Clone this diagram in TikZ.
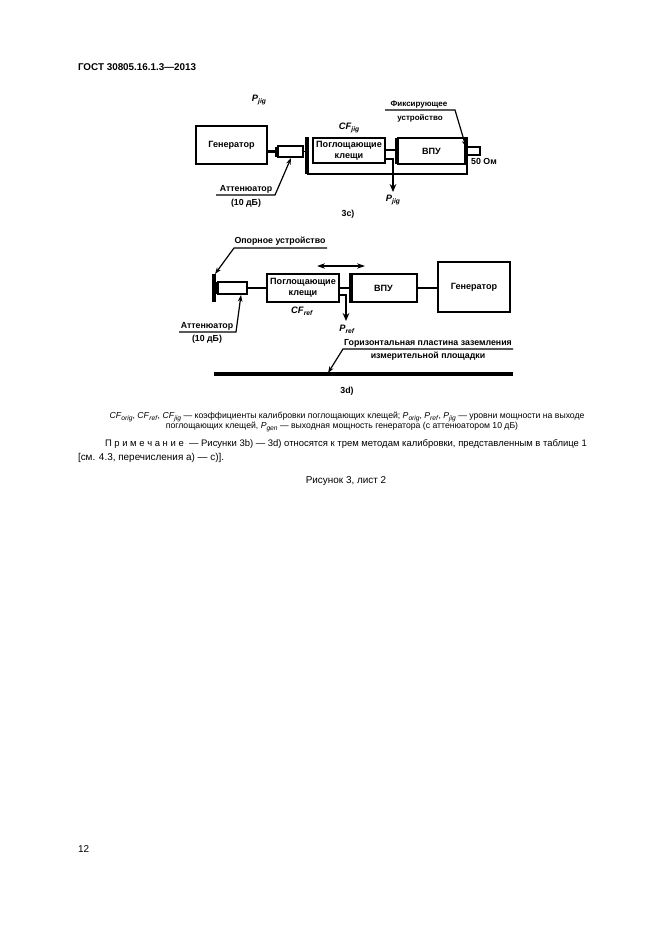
\documentclass[tikz,border=0pt]{standalone}
\usepackage{fontspec}
\setmainfont{Liberation Sans}
\usetikzlibrary{arrows.meta}
\newcommand\Lsub[2]{\textit{#1}\raisebox{-0.45ex}{\fontsize{5}{5}\selectfont\textit{#2}}}
\newcommand\bx[7][box]{\node[#1,minimum width={(#5-#3)*0.75pt},minimum height={(#6-#4)*0.75pt}] (#2) at ({(#3+#5)/2},{(#4+#6)/2}) {#7};}
\tikzset{
 x=0.75pt,y=-0.75pt,
 box/.style={draw,line width=1.7pt,inner sep=0pt,outer sep=0pt,align=center,font=\fontsize{6.8}{9}\selectfont\bfseries},
 midbox/.style={box,line width=1.25pt},
 thinbox/.style={box,line width=1.2pt},
 plate/.style={line width=2.4pt},
 wire/.style={line width=1.2pt},
 wireb/.style={line width=2pt},
 lead/.style={line width=0.9pt,-{Stealth[length=5pt,width=3.5pt]}},
 outarrow/.style={line width=1.2pt,-{Stealth[length=6pt,width=5pt]}},
 lab/.style={inner sep=0pt,outer sep=0pt,font=\fontsize{6.6}{8}\selectfont\bfseries},
 labp/.style={lab,font=\fontsize{7}{8}\selectfont\bfseries},
 labs/.style={lab,font=\fontsize{6}{8}\selectfont\bfseries},
 labg/.style={lab,font=\fontsize{6.6}{8}\selectfont\bfseries},
 txt/.style={inner sep=0pt,outer sep=0pt,font=\fontsize{7.1}{9}\selectfont},
 txtb/.style={txt,font=\fontsize{7.45}{9}\selectfont},
 leg/.style={inner sep=0pt,outer sep=0pt,font=\fontsize{6.5}{8}\selectfont},
}
\begin{document}
\begin{tikzpicture}
\useasboundingbox (0,0) rectangle (661,935);
\fill[white] (0,0) rectangle (661,935);
% header / footer
\node[txt,anchor=west,font=\fontsize{7.4}{9}\selectfont\bfseries] (hdr) at (78,67) {ГОСТ 30805.16.1.3—2013};
\node[txtb,anchor=west] (pg) at (78,849) {12};
% 3c
\bx{gen1}{196}{126}{267}{164}{Генератор}
\bx[thinbox]{att1}{278}{146}{303}{157}{}
\bx{clamp1}{313}{138}{385}{163}{Поглощающие\\[-0.5pt]клещи}
\bx{vpu1}{398}{138}{465}{164}{ВПУ}
\bx[thinbox]{load1}{467}{147}{480}{155}{}
\coordinate (pl1t) at (307,137);
\coordinate (pl1b) at (307,174);
\coordinate (ret1) at (467,174);
\coordinate (ret1t) at (467,137);
\coordinate (p1end) at (393,192);
\draw[plate] (pl1t) -- (pl1b);
\draw[wireb] (pl1b) -- (ret1) -- (ret1t);
\draw[plate] (vpu1.north west) ++(-1,0) -- ++(0,26);
\draw[wireb] (gen1.east |- att1.west) -- (att1.west);
\draw[line width=3pt] (att1.west) ++(-1,-5) -- ++(0,10);
\draw[wire] (att1.east) -- (att1.east -| pl1t);
\draw[wire] (clamp1.east |- vpu1.west) ++(0,-1) -- ++(13,0);
\coordinate (o1) at (clamp1.east |- 0,159);
\draw[wire] (o1) -| (393,170);
\draw[outarrow] (393,165) -- (p1end);
\node[labp] (pj1) at (259,100) {\Lsub{P}{jig}};
\node[labp] (cfj) at (349,128) {\Lsub{CF}{jig}};
\node[labp] (pj2) at (393,200) {\Lsub{P}{jig}};
\node[lab] (s3c) at (348,214) {3с)};
\node[lab] (ohm) at (484,161) {50 Ом};
\node[labs] (fix1) at (419,105) {Фиксирующее};
\node[labs] (fix2) at (420,118) {устройство};
\coordinate (fixa) at (385,110);\coordinate (fixb) at (455,110);\coordinate (fixc) at (466,147);
\draw[lead] (fixa) -- (fixb) -- (fixc);
\node[lab] (at1) at (246,189) {Аттенюатор};
\node[lab] (db1) at (246,203) {(10 дБ)};
\coordinate (ata) at (216,195);\coordinate (atb) at (275,195);\coordinate (atc) at (291,158);
\draw[lead] (ata) -- (atb) -- (atc);
% 3d
\coordinate (pl2t) at (214,274);\coordinate (pl2b) at (214,302);
\draw[plate] (pl2t) -- (pl2b);
\node[lab] (ref) at (280,241) {Опорное устройство};
\coordinate (refa) at (327,248);\coordinate (refb) at (234,248);\coordinate (refc) at (215,274);
\draw[lead] (refa) -- (refb) -- (refc);
\bx[thinbox]{att2}{218}{282}{247}{294}{}
\draw[line width=3pt] (att2.west) ++(-1,-6) -- ++(0,12);
\bx[midbox]{clamp2}{267}{274}{339}{302}{Поглощающие\\[-0.5pt]клещи}
\bx[midbox]{vpu2}{350}{274}{417}{302}{ВПУ}
\draw[line width=3.5pt] (vpu2.north west) ++(1,0) -- ++(0,28);
\bx[midbox]{gen2}{438}{262}{510}{312}{Генератор}
\draw[wire] (att2.east) -- (clamp2.west);
\draw[wire] (clamp2.east) -- (vpu2.west);
\draw[wire] (vpu2.east) -- (vpu2.east -| gen2.west);
\coordinate (o2) at (clamp2.east |- 0,295);
\coordinate (p2end) at (346,321);
\draw[wire] (o2) -| (346,305);
\draw[outarrow] (346,300) -- (p2end);
\coordinate (dl) at (317,266);\coordinate (dr) at (365,266);
\draw[line width=0.9pt,{Stealth[length=6pt,width=4pt]}-{Stealth[length=6pt,width=4pt]}] (dl) -- (dr);
\node[labp] (cfr) at (302,311) {\Lsub{CF}{ref}};
\node[labp] (pr) at (347,329) {\Lsub{P}{ref}};
\node[lab] (at2) at (207,326) {Аттенюатор};
\node[lab] (db2) at (207,339) {(10 дБ)};
\coordinate (a2a) at (179,332);\coordinate (a2b) at (236,332);\coordinate (a2c) at (241,295);
\draw[lead] (a2a) -- (a2b) -- (a2c);
\node[labg] (gp1) at (428,343) {Горизонтальная пластина заземления};
\node[labg] (gp2) at (428,356) {измерительной площадки};
\coordinate (gpl) at (214,374);\coordinate (gpr) at (513,374);
\draw[line width=2.6pt] (gpl) -- (gpr);
\coordinate (ga) at (513,349);\coordinate (gb) at (343,349);\coordinate (gc) at (328,373);
\draw[lead] (ga) -- (gb) -- (gc);
\node[lab] (s3d) at (347,391) {3d)};
% text
\node[leg] (l1) at (347,417) {\Lsub{CF}{orig}, \Lsub{CF}{ref}, \Lsub{CF}{jig} — коэффициенты калибровки поглощающих клещей; \Lsub{P}{orig}, \Lsub{P}{ref}, \Lsub{P}{jig} — уровни мощности на выходе};
\node[leg] (l2) at (342,427) {поглощающих клещей, \Lsub{P}{gen} — выходная мощность генератора (с аттенюатором 10 дБ)};
\node[txt,anchor=west] (n1) at (105,444.5) {П р и м е ч а н и е\ \ — Рисунки 3b) — 3d) относятся к трем методам калибровки, представленным в таблице 1};
\node[txtb,anchor=west] (n2) at (78,458) {[см. 4.3, перечисления а) — с)].};
\node[txtb] (cap) at (346,481) {Рисунок 3, лист 2};
\end{tikzpicture}
\end{document}
